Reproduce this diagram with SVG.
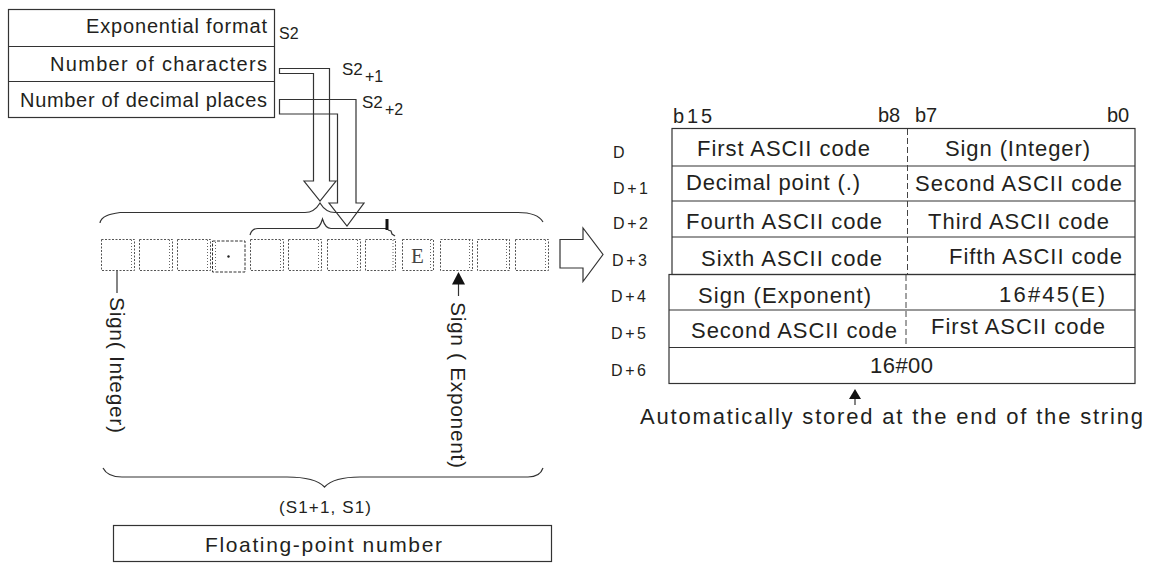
<svg xmlns="http://www.w3.org/2000/svg" width="1151" height="563" viewBox="0 0 1151 563">
<defs>
<style>
.t{font-family:"Liberation Sans",Arial,sans-serif;fill:#231f20}
.ln{fill:none;stroke:#333;stroke-width:1.2}
.cell{fill:none;stroke:#555;stroke-width:1;stroke-dasharray:2 1.5}
.dcell{fill:none;stroke:#333;stroke-width:1;stroke-dasharray:3 1.5}
.inner{fill:none;stroke:#666;stroke-width:1;stroke-dasharray:1 2}
.div{fill:none;stroke:#444;stroke-width:1;stroke-dasharray:6 3}
.f20{font-size:20px}
.f21{font-size:21px}
.f22{font-size:22px}
.f16{font-size:16px}
</style>
</defs>
<rect width="1151" height="563" fill="#fff"/>

<g id="source-table">
<rect x="8.5" y="9.5" width="266" height="108" class="ln"/>
<line x1="8.5" y1="46.5" x2="274.5" y2="46.5" class="ln"/>
<line x1="8.5" y1="81.5" x2="274.5" y2="81.5" class="ln"/>
<text class="t f20" x="86" y="33" textLength="181" lengthAdjust="spacing">Exponential format</text>
<text class="t f20" x="50" y="70.5" textLength="217" lengthAdjust="spacing">Number of characters</text>
<text class="t f20" x="20" y="107" textLength="247" lengthAdjust="spacing">Number of decimal places</text>
</g>

<g id="source-labels">
<text class="t f16" x="279" y="39">S2</text>
<text class="t" font-size="17" x="342" y="75">S2</text>
<text class="t f16" x="365" y="81.5">+1</text>
<text class="t" font-size="17" x="362" y="108">S2</text>
<text class="t f16" x="385" y="114.5">+2</text>
</g>

<g id="string-cells">
<rect class="cell" x="101.5" y="239.5" width="33" height="31"/><line class="inner" x1="131.5" y1="240" x2="131.5" y2="270"/>
<rect class="cell" x="139.5" y="239.5" width="33" height="31"/><line class="inner" x1="169.5" y1="240" x2="169.5" y2="270"/>
<rect class="cell" x="177.5" y="239.5" width="33" height="31"/><line class="inner" x1="207.5" y1="240" x2="207.5" y2="270"/>
<rect class="dcell" x="212.5" y="241" width="32.5" height="31"/><line class="inner" x1="215.5" y1="242" x2="215.5" y2="271"/>
<circle cx="228.5" cy="256.5" r="1.2" fill="#222"/>
<rect class="cell" x="250.5" y="239.5" width="33" height="31"/><line class="inner" x1="280.5" y1="240" x2="280.5" y2="270"/>
<rect class="cell" x="288.5" y="239.5" width="33" height="31"/><line class="inner" x1="318.5" y1="240" x2="318.5" y2="270"/>
<rect class="cell" x="327.5" y="239.5" width="33" height="31"/><line class="inner" x1="357.5" y1="240" x2="357.5" y2="270"/>
<rect class="cell" x="365.5" y="239.5" width="30" height="31"/><line class="inner" x1="393" y1="240" x2="393" y2="270"/>
<rect class="cell" x="402.5" y="239.5" width="31" height="31"/><line class="inner" x1="430.5" y1="240" x2="430.5" y2="270"/>
<text x="417.5" y="262.5" text-anchor="middle" font-family="Liberation Serif, serif" font-size="21" fill="#444">E</text>
<rect class="cell" x="440.5" y="239.5" width="32" height="31"/><line class="inner" x1="469.5" y1="240" x2="469.5" y2="270"/>
<rect class="cell" x="477.5" y="239.5" width="32" height="31"/><line class="inner" x1="506.5" y1="240" x2="506.5" y2="270"/>
<rect class="cell" x="515.5" y="239.5" width="33" height="31"/><line class="inner" x1="545.5" y1="240" x2="545.5" y2="270"/>
</g>

<g id="sign-labels">
<text class="t f21" transform="translate(110,297) rotate(90)" textLength="136" lengthAdjust="spacing">Sign( Integer)</text>
<text class="t f21" transform="translate(451,302) rotate(90)" textLength="166" lengthAdjust="spacing">Sign ( Exponent)</text>
</g>

<g id="s1-label">
<text class="t" font-size="17" x="279" y="513" textLength="92" lengthAdjust="spacing">(S1+1, S1)</text>
</g>

<g id="floating-point-box">
<rect x="113.5" y="525.5" width="438" height="36" class="ln"/>
<text class="t f21" x="205" y="552" textLength="237" lengthAdjust="spacing">Floating-point number</text>
</g>

<g id="dest-table">
<text class="t f20" x="673" y="123" textLength="39" lengthAdjust="spacing">b15</text>
<text class="t f20" x="878" y="122">b8</text>
<text class="t f20" x="915" y="122">b7</text>
<text class="t f20" x="1107" y="122">b0</text>
<rect x="672" y="128.5" width="463" height="146" class="ln"/>
<rect x="669" y="274.5" width="466" height="109" class="ln"/>
<line class="ln" x1="672" y1="166" x2="1135" y2="166"/>
<line class="ln" x1="672" y1="201" x2="1135" y2="201"/>
<line class="ln" x1="672" y1="237" x2="1135" y2="237"/>
<line class="ln" x1="669" y1="310" x2="1135" y2="310"/>
<line class="ln" x1="669" y1="347.5" x2="1135" y2="347.5"/>
<line class="div" x1="907.5" y1="129" x2="907.5" y2="274"/>
<line class="div" x1="906" y1="275" x2="906" y2="347"/>
<text class="t f16" x="613" y="158">D</text>
<text class="t f16" x="613" y="194" textLength="35" lengthAdjust="spacing">D+1</text>
<text class="t f16" x="613" y="229" textLength="35" lengthAdjust="spacing">D+2</text>
<text class="t f16" x="612" y="266" textLength="35" lengthAdjust="spacing">D+3</text>
<text class="t f16" x="611" y="302" textLength="35" lengthAdjust="spacing">D+4</text>
<text class="t f16" x="611" y="339" textLength="35" lengthAdjust="spacing">D+5</text>
<text class="t f16" x="611" y="376" textLength="35" lengthAdjust="spacing">D+6</text>
<text class="t f22" x="697" y="156" textLength="173" lengthAdjust="spacing">First ASCII code</text>
<text class="t f22" x="945" y="156" textLength="145" lengthAdjust="spacing">Sign (Integer)</text>
<text class="t f22" x="686" y="190" textLength="174" lengthAdjust="spacing">Decimal point (.)</text>
<text class="t f22" x="915" y="191" textLength="207" lengthAdjust="spacing">Second ASCII code</text>
<text class="t f22" x="686" y="229" textLength="196" lengthAdjust="spacing">Fourth ASCII code</text>
<text class="t f22" x="928" y="229" textLength="181" lengthAdjust="spacing">Third ASCII code</text>
<text class="t f22" x="701" y="266" textLength="181" lengthAdjust="spacing">Sixth ASCII code</text>
<text class="t f22" x="949" y="264" textLength="173" lengthAdjust="spacing">Fifth ASCII code</text>
<text class="t f22" x="698" y="303" textLength="173" lengthAdjust="spacing">Sign (Exponent)</text>
<text class="t f22" x="999" y="302" textLength="106" lengthAdjust="spacing">16#45(E)</text>
<text class="t f22" x="691" y="338" textLength="206" lengthAdjust="spacing">Second ASCII code</text>
<text class="t f22" x="931" y="334" textLength="174" lengthAdjust="spacing">First ASCII code</text>
<text class="t f22" x="870" y="373" textLength="63" lengthAdjust="spacing">16#00</text>
</g>

<g id="end-note">
<text class="t f22" x="640" y="424" textLength="503" lengthAdjust="spacing">Automatically stored at the end of the string</text>
</g>

<g id="connectors">
<polygon class="ln" points="279.5,68.5 329.5,68.5 329.5,181 336,181 320,201 304,181 313.5,181 313.5,73.5 279.5,73.5"/>
<polygon class="ln" points="279.5,99.5 356,99.5 356,203 364,203 347,226 329,203 337.5,203 337.5,114 279.5,114"/>
<path class="ln" d="M100,223 C101,216 110,214 120,212.5 L305,212.5 C313,212.5 317,208 320,203 C323,208 327,212.5 335,212.5 L518,212.5 C530,212.5 539,215 543,222"/>
<path class="ln" d="M250,235 C251,231 253,228.5 258,228.5 L315,228.5 C319,228.5 321,224 322.5,219 C324,224 327,228.5 331,228.5 L386,228.5"/>
<line x1="387" y1="219" x2="387" y2="230" stroke="#111" stroke-width="3"/>
<path class="ln" d="M388,230 L391,231 L392,234 L395,236"/>
<path class="ln" d="M103,468 C106,474 112,477 122,477 L287,477 C305,477 318,480 324.5,487 C331,480 344,477 360,477 L528,477 C536,477 541,474 543,468"/>
<polygon class="ln" points="560,239.5 583,239.5 583,228 603,254.5 583,281.5 583,268 560,268"/>
<line class="ln" x1="117" y1="271" x2="117" y2="293"/>
<line class="ln" x1="458.5" y1="283" x2="458.5" y2="296"/>
<polygon points="458.5,272 452,284.5 465,284.5" fill="#111"/>
<line class="ln" x1="855" y1="398" x2="855" y2="405"/>
<polygon points="855,389 849,399 861,399" fill="#111"/>
</g>
</svg>
